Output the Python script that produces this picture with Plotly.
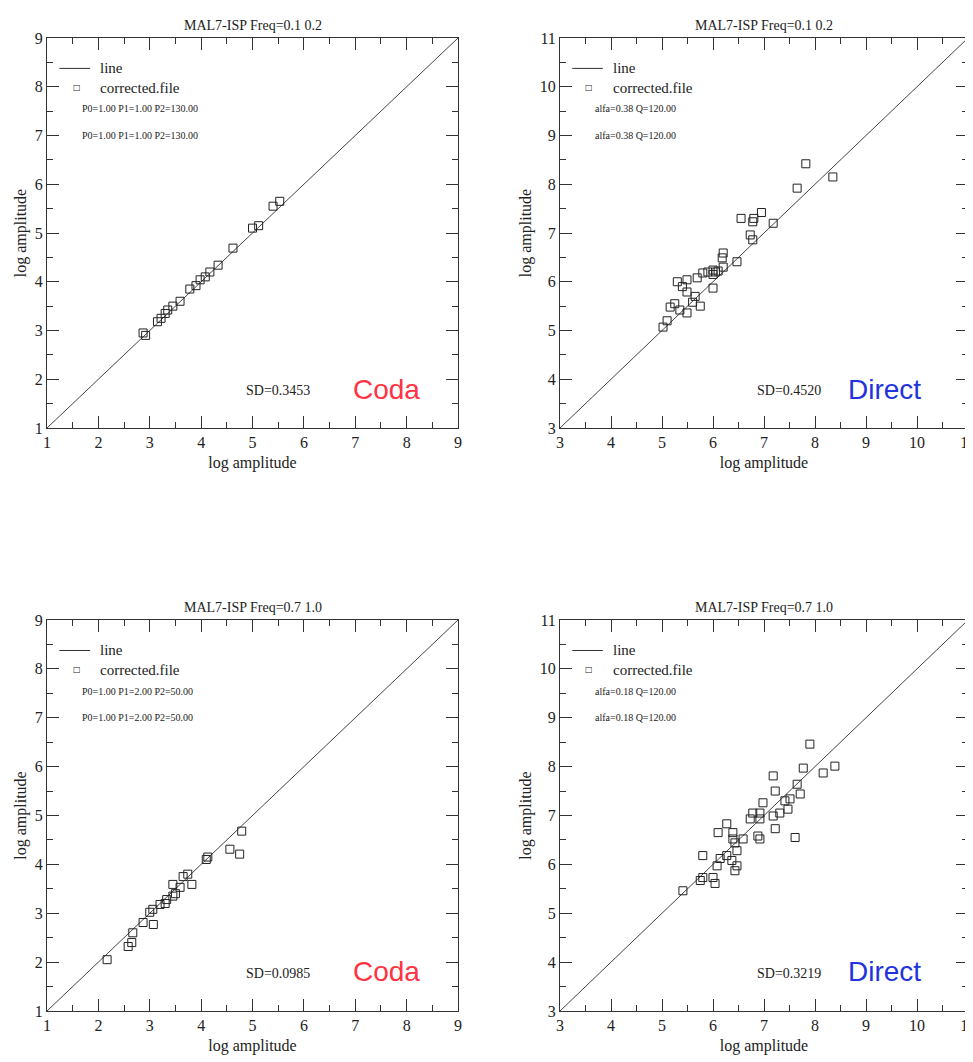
import plotly.graph_objects as go

# ---------------- data ----------------
titles = ["MAL7-ISP Freq=0.1 0.2", "MAL7-ISP Freq=0.1 0.2",
          "MAL7-ISP Freq=0.7 1.0", "MAL7-ISP Freq=0.7 1.0"]
param_lines = [["P0=1.00 P1=1.00 P2=130.00", "P0=1.00 P1=1.00 P2=130.00"],
               ["alfa=0.38 Q=120.00", "alfa=0.38 Q=120.00"],
               ["P0=1.00 P1=2.00 P2=50.00", "P0=1.00 P1=2.00 P2=50.00"],
               ["alfa=0.18 Q=120.00", "alfa=0.18 Q=120.00"]]
sd_labels = ["SD=0.3453", "SD=0.4520", "SD=0.0985", "SD=0.3219"]
kind_labels = ["Coda", "Direct", "Coda", "Direct"]
axis_ranges = [[1, 9], [3, 11], [1, 9], [3, 11]]

# panel 1: coda 0.1-0.2
x1 = [2.87, 2.92, 3.15, 3.22, 3.3, 3.35, 3.45, 3.59, 3.78, 3.9, 3.98, 4.08, 4.17, 4.33,
      4.62, 5.0, 5.12, 5.4, 5.53]
y1 = [2.95, 2.9, 3.18, 3.25, 3.35, 3.42, 3.5, 3.6, 3.85, 3.92, 4.04, 4.1, 4.2, 4.34,
      4.69, 5.1, 5.15, 5.55, 5.65]
# panel 2: direct 0.1-0.2
x2 = [5.02, 5.1, 5.16, 5.35, 5.49, 5.6, 6.0, 5.49, 5.3, 5.49, 5.69, 5.8, 6.0, 6.2, 6.2,
      6.18, 6.47, 6.78, 6.73, 7.18, 6.78, 5.25, 5.75, 5.9, 6.05, 6.1, 5.4, 5.65,
      6.0, 6.55, 6.8, 6.95, 7.65, 7.82, 8.35]
y2 = [5.07, 5.2, 5.48, 5.42, 5.36, 5.58, 5.87, 5.79, 6.0, 6.04, 6.08, 6.18, 6.24, 6.3, 6.59,
      6.49, 6.41, 6.86, 6.96, 7.2, 7.23, 5.55, 5.5, 6.2, 6.2, 6.22, 5.9, 5.7,
      6.15, 7.3, 7.3, 7.42, 7.92, 8.42, 8.15]
# panel 3: coda 0.7-1.0
x3 = [4.79, 4.56, 4.75, 4.13, 4.1, 3.74, 3.82, 3.45, 3.59, 3.33, 3.45, 3.2, 3.06, 3.0,
      2.87, 3.07, 2.67, 2.65, 2.58, 2.17, 3.5, 3.65, 3.3]
y3 = [4.68, 4.31, 4.21, 4.15, 4.1, 3.8, 3.59, 3.59, 3.53, 3.28, 3.35, 3.18, 3.08, 3.02,
      2.81, 2.77, 2.6, 2.4, 2.32, 2.05, 3.4, 3.75, 3.2]
# panel 4: direct 0.7-1.0
x4 = [7.9, 7.77, 8.16, 8.39, 7.18, 7.22, 7.65, 7.71, 7.51, 7.41, 7.47, 7.31, 7.18, 6.98,
      6.92, 6.78, 6.73, 6.92, 7.22, 6.92, 6.88, 7.61, 6.27, 6.1, 6.39, 6.39, 6.43, 6.59,
      6.47, 6.27, 6.14, 6.37, 6.47, 6.43, 5.8, 6.08, 5.8, 6.0, 6.04, 5.75, 5.41]
y4 = [8.46, 7.97, 7.87, 8.01, 7.81, 7.5, 7.64, 7.44, 7.34, 7.3, 7.13, 7.05, 6.99, 7.26,
      7.05, 7.05, 6.93, 6.93, 6.73, 6.52, 6.58, 6.55, 6.83, 6.65, 6.65, 6.52, 6.44, 6.52,
      6.28, 6.18, 6.12, 6.08, 5.97, 5.87, 6.18, 5.97, 5.73, 5.73, 5.61, 5.67, 5.46]
xs = [x1, x2, x3, x4]
ys = [y1, y2, y3, y4]

# ---------------- layout ----------------
W, H = 973, 1062
OFF = 8  # page body margin
px_x = [(47, 458), (560, 968), (47, 458), (560, 968)]
px_y = [(38, 428), (38, 428), (620, 1011), (620, 1011)]

SERIF = "Liberation Serif"
fig = go.Figure()
layout = dict(width=W, height=H, margin=dict(l=0, r=0, t=0, b=0, autoexpand=False),
              paper_bgcolor="white", plot_bgcolor="white", showlegend=False,
              annotations=[], shapes=[])

for i in range(4):
    n = "" if i == 0 else str(i + 1)
    xa, ya = "x" + n, "y" + n
    lo, hi = axis_ranges[i]
    fig.add_trace(go.Scatter(x=[lo, hi], y=[lo, hi], mode="lines",
                             line=dict(color="#444", width=1), xaxis=xa, yaxis=ya))
    fig.add_trace(go.Scatter(x=xs[i], y=ys[i], mode="markers",
                             marker=dict(symbol="square-open", size=8,
                                         color="#222", line=dict(width=1)),
                             xaxis=xa, yaxis=ya))
    ax_common = dict(range=[lo, hi], dtick=1, tick0=lo, showline=True, linecolor="#333",
                     linewidth=1, mirror="ticks", ticks="inside", ticklen=12,
                     tickcolor="#333", showgrid=False, zeroline=False, automargin=False,
                     tickfont=dict(family=SERIF, size=16, color="#222"),
                     minor=dict(ticks="inside", ticklen=6, dtick=0.5, tickcolor="#333",
                                showgrid=False))
    d_x = [(px_x[i][0] - OFF) / W, (px_x[i][1] - OFF) / W]
    d_y = [1 - (px_y[i][1] - OFF) / H, 1 - (px_y[i][0] - OFF) / H]
    layout["xaxis" + n] = dict(ax_common, domain=d_x, anchor=ya,
                               title=dict(text="log amplitude", standoff=6,
                                          font=dict(family=SERIF, size=16, color="#222")))
    layout["yaxis" + n] = dict(ax_common, domain=d_y, anchor=xa,
                               title=dict(text="log amplitude", standoff=4,
                                          font=dict(family=SERIF, size=16, color="#222")))
    xd, yd = xa + " domain", ya + " domain"
    A = layout["annotations"]
    A.append(dict(text=titles[i], xref=xd, yref=yd, x=0.5, y=1.0, yshift=3,
                  xanchor="center", yanchor="bottom", showarrow=False,
                  font=dict(family=SERIF, size=14, color="#222")))
    # legend
    layout["shapes"].append(dict(type="line", xref=xd, yref=yd, x0=0.03, x1=0.105,
                                 y0=0.922, y1=0.922, line=dict(color="#333", width=1)))
    A.append(dict(text="line", xref=xd, yref=yd, x=0.125, y=0.922, xanchor="left",
                  yanchor="middle", showarrow=False,
                  font=dict(family=SERIF, size=15, color="#222")))
    A.append(dict(text="\u25a1", xref=xd, yref=yd, x=0.072, y=0.873, xanchor="center",
                  yanchor="middle", showarrow=False,
                  font=dict(family="DejaVu Sans", size=8, color="#222")))
    A.append(dict(text="corrected.file", xref=xd, yref=yd, x=0.125, y=0.873,
                  xanchor="left", yanchor="middle", showarrow=False,
                  font=dict(family=SERIF, size=15, color="#222")))
    for k, t in enumerate(param_lines[i]):
        A.append(dict(text=t, xref=xd, yref=yd, x=0.08, y=0.818 - 0.068 * k,
                      xanchor="left", yanchor="middle", showarrow=False,
                      font=dict(family=SERIF, size=10, color="#222")))
    A.append(dict(text=sd_labels[i], xref=xd, yref=yd, x=0.645, y=0.095,
                  xanchor="right", yanchor="middle", showarrow=False,
                  font=dict(family=SERIF, size=14, color="#222")))
    A.append(dict(text=kind_labels[i], xref=xd, yref=yd, x=0.74 if i % 2 == 0 else 0.7,
                  y=0.1, xanchor="left", yanchor="middle", showarrow=False,
                  font=dict(family="Liberation Sans", size=28,
                            color="#ff3344" if i % 2 == 0 else "#2233dd")))

fig.update_layout(**layout)
fig.write_html("out.html")
